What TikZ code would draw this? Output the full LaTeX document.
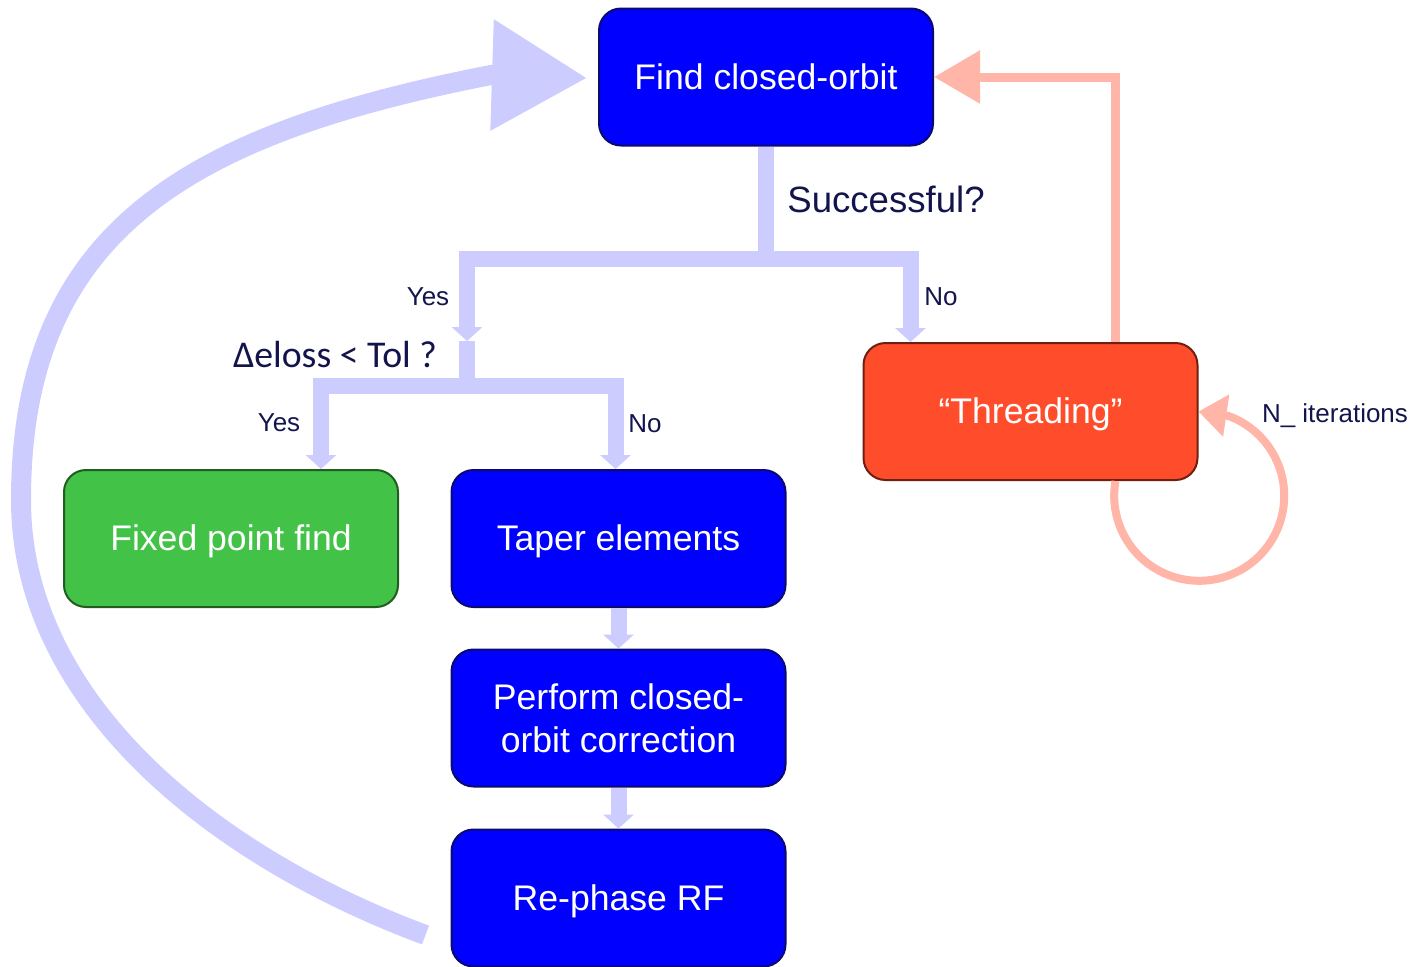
\documentclass[tikz,border=0pt]{standalone}
\usepackage{fontspec}
\setmainfont{Liberation Sans}
\newfontfamily\calib{Carlito}
\usetikzlibrary{arrows.meta,calc}
\definecolor{boxblue}{HTML}{0000FF}
\definecolor{blueedge}{HTML}{0A0A70}
\definecolor{boxgreen}{HTML}{42C247}
\definecolor{greenedge}{HTML}{215C21}
\definecolor{boxorange}{HTML}{FF4D2B}
\definecolor{orangeedge}{HTML}{6E1F10}
\definecolor{lav}{HTML}{CCCCFF}
\definecolor{salmon}{HTML}{FFB5A8}
\definecolor{labelc}{HTML}{14144D}
\begin{document}
\begin{tikzpicture}[x=0.5pt,y=-0.5pt,
  box/.style={rounded corners=11pt, minimum width=167pt, minimum height=68.5pt,
    inner sep=0pt, line width=1pt, text=white, align=center,
    font=\fontsize{17.8}{21.5}\selectfont},
  oneline/.style={text height=16.1pt, text depth=3.8pt},
  bluebox/.style={box, fill=boxblue, draw=blueedge},
  greenbox/.style={box, fill=boxgreen, draw=greenedge},
  orangebox/.style={box, fill=boxorange, draw=orangeedge},
  flow/.style={draw=lav, line width=8pt, line join=miter},
  flowarrow/.style={flow, -{Triangle[length=7pt,width=15pt]}},
  bigloop/.style={draw=lav, line width=10pt, -{Triangle[length=47.5pt,width=53pt]}},
  backarrow/.style={draw=salmon, line width=4.5pt, line join=miter, -{Triangle[length=23pt,width=25.5pt]}},
  selfloop/.style={draw=salmon, line width=4pt, -{Triangle[length=14pt,width=20.5pt]}},
  lbl/.style={text=labelc, inner sep=0pt, font=\fontsize{13}{15}\selectfont},
  biglbl/.style={text=labelc, inner sep=0pt, font=\fontsize{18.3}{21}\selectfont},
  tollbl/.style={text=labelc, inner sep=0pt, font=\calib\fontsize{18.9}{21}\selectfont},
]
\useasboundingbox (0,0) rectangle (1414,966);

% boxes
\node[bluebox, oneline] (find) at (766,77) {Find closed-orbit};
\node[orangebox, oneline] (thr) at (1030.5,411.5) {“Threading”};
\node[greenbox, oneline] (fix) at (231,538.5) {Fixed point find};
\node[bluebox, oneline] (tap) at (618.5,538.5) {Taper elements};
\node[bluebox] (perf) at (618.5,718) {Perform closed-\\orbit correction};
\node[bluebox, oneline] (reph) at (618.5,898) {Re-phase RF};

% labels
\node[biglbl] (succ) at (886,199) {Successful?};
\node[lbl] (yes1) at (428,297) {Yes};
\node[lbl] (no1) at (941,297) {No};
\node[tollbl] (tol) at (335,355) {Δeloss < Tol ?};
\node[lbl] (yes2) at (279,423) {Yes};
\node[lbl] (no2) at (645,424) {No};
\node[lbl] (niter) at (1335,416) {N\_ iterations};

% decision tree connectors
\coordinate (j1) at (766,259);
\coordinate (dec) at (467,341);
\coordinate (j2) at (467,386);
\draw[flow] (find.south) -- (j1);
\draw[flowarrow] (j1) -| (dec);
\draw[flowarrow] (j1) -| ($(thr.north west)+(48,0)$);
\draw[flow] (dec) -- (j2);
\draw[flowarrow] (j2) -| ($(fix.north east)+(-78,0)$);
\draw[flowarrow] (j2) -| ($(tap.north)+(-3,0)$);
\draw[flowarrow] (tap) -- (perf);
\draw[flowarrow] (perf) -- (reph);

% big return loop
\draw[bigloop] ($(reph.west)+(-25,37)$) .. controls (210,855) and (21,700) .. (21,500)
  .. controls (21,230) and (189,134) .. (491,75) -- ($(find.west)+(-11,1)$);

% threading back arrow and self loop
\draw[backarrow] ($(thr.north east)+(-83,0)$) |- (find.east);
\draw[selfloop] ($(thr.south east)+(-83,0)$) arc[start angle=190, end angle=-70, radius=85] -- (thr.east);
\end{tikzpicture}
\end{document}
